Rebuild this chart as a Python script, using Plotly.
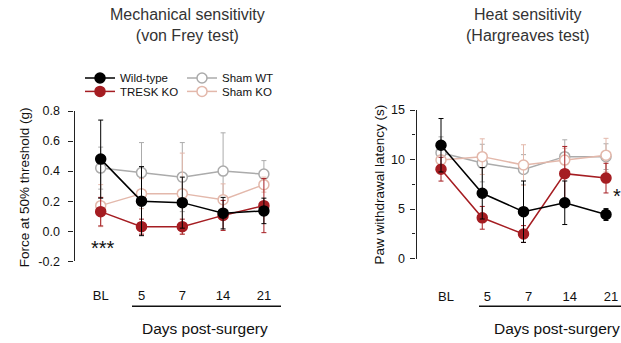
import plotly.graph_objects as go

W, H = 621, 343

# ---------------- data ----------------
days = ["BL", "5", "7", "14", "21"]

# Mechanical sensitivity (von Frey), force at 50% threshold (g), mean and SD
vf_wt = [0.48, 0.20, 0.19, 0.12, 0.135]
vf_wt_err = [0.26, 0.23, 0.17, 0.105, 0.085]
vf_ko = [0.13, 0.03, 0.03, 0.105, 0.17]
vf_ko_err = [0.095, 0.05, 0.05, 0.10, 0.18]
vf_shwt = [0.42, 0.39, 0.36, 0.40, 0.38]
vf_shwt_err = [0.14, 0.20, 0.23, 0.255, 0.09]
vf_shko = [0.17, 0.25, 0.25, 0.21, 0.31]
vf_shko_err = [0.14, 0.10, 0.27, 0.105, 0.05]

# Heat sensitivity (Hargreaves), paw withdrawal latency (s)
hg_wt = [11.45, 6.6, 4.74, 5.64, 4.45]
hg_wt_err = [2.7, 2.6, 3.1, 2.2, 0.6]
hg_ko = [9.03, 4.12, 2.48, 8.58, 8.13]
hg_ko_err = [1.2, 1.15, 0.85, 2.75, 1.5]
hg_shwt = [10.7, 9.65, 9.0, 10.3, 10.3]
hg_shwt_err = [1.6, 1.9, 1.5, 1.7, 1.3]
hg_shko = [9.95, 10.3, 9.45, 9.95, 10.45]
hg_shko_err = [0.5, 1.8, 2.05, 1.2, 1.7]

names = ["Wild-type", "TRESK KO", "Sham WT", "Sham KO"]
colors = ["#000000", "#a51d22", "#ababab", "#e3b8ab"]

FONT = "Arial, Liberation Sans, sans-serif"


def fx(px):
    return px / W


def fy(py):
    return 1 - py / H


xi = list(range(len(days)))

fig = go.Figure()


def add_series(y, err, idx, xa, ya, legend=None):
    filled = idx < 2
    c = colors[idx]
    fig.add_trace(go.Scatter(
        x=xi, y=y, xaxis=xa, yaxis=ya, name=names[idx],
        mode="lines+markers",
        line=dict(color=c, width=1.5),
        marker=dict(size=10, symbol="circle",
                    color=c if filled else "white",
                    line=dict(color=c, width=1.5)),
        error_y=dict(type="data", array=err, visible=True, color=c,
                     thickness=1, width=2.5),
        showlegend=legend is not None,
        legend=legend if legend else "legend",
    ))


# shams drawn first (behind), then KO, then WT
left = [(vf_shwt, vf_shwt_err, 2, "legend3"), (vf_shko, vf_shko_err, 3, "legend4"),
        (vf_ko, vf_ko_err, 1, "legend2"), (vf_wt, vf_wt_err, 0, "legend")]
for y, e, i, lg in left:
    add_series(y, e, i, "x", "y", lg)

right = [(hg_shwt, hg_shwt_err, 2), (hg_shko, hg_shko_err, 3),
         (hg_ko, hg_ko_err, 1), (hg_wt, hg_wt_err, 0)]
for y, e, i in right:
    add_series(y, e, i, "x2", "y2")

axis_color = "#222222"
tickfont = dict(family=FONT, size=12.5, color="#111111")

# panel geometry (pixels)
L_AX = 74.5
L_X0, L_DX = 100.7, 40.8
L_RIGHT = 290
R_AX = 416.5
R_X0, R_DX = 441, 41.25
R_RIGHT = 621

fig.update_layout(
    width=W, height=H,
    margin=dict(l=0, r=0, t=0, b=0),
    paper_bgcolor="white", plot_bgcolor="white",
    font=dict(family=FONT, color="#111111"),
    xaxis=dict(
        domain=[fx(L_AX), fx(L_RIGHT)],
        range=[(L_AX - L_X0) / L_DX, (L_RIGHT - L_X0) / L_DX],
        tickvals=xi, ticktext=days, showline=False, showgrid=False,
        zeroline=False, ticks="", tickfont=dict(family=FONT, size=13, color="#111111"),
        ticklabelstandoff=25, anchor="y",
    ),
    yaxis=dict(
        domain=[fy(265), fy(108.5)], range=[-0.2, 0.8],
        tickvals=[-0.2, 0.0, 0.2, 0.4, 0.6, 0.8],
        ticktext=["-0.2", "0.0", "0.2", "0.4", "0.6", "0.8"],
        showline=True, linecolor=axis_color, linewidth=1.3,
        ticks="outside", ticklen=5, tickwidth=1.3, tickcolor=axis_color,
        showgrid=False, zeroline=False, tickfont=tickfont,
        ticklabelstandoff=6, anchor="x",
    ),
    xaxis2=dict(
        domain=[fx(R_AX), fx(R_RIGHT)],
        range=[(R_AX - R_X0) / R_DX, (R_RIGHT - R_X0) / R_DX],
        tickvals=xi, ticktext=days, showline=False, showgrid=False,
        zeroline=False, ticks="", tickfont=dict(family=FONT, size=13, color="#111111"),
        ticklabelstandoff=28, ticklabelshift=5, anchor="y2",
    ),
    yaxis2=dict(
        domain=[fy(262.3), fy(107.5)], range=[0, 15],
        tickvals=[0, 5, 10, 15],
        showline=True, linecolor=axis_color, linewidth=1.3,
        ticks="outside", ticklen=5, tickwidth=1.3, tickcolor=axis_color,
        minor=dict(ticks="outside", ticklen=3, dtick=2.5, tick0=0,
                   tickcolor=axis_color, tickwidth=1.2),
        showgrid=False, zeroline=False, tickfont=tickfont,
        ticklabelstandoff=3, anchor="x2",
    ),
)

leg_font = dict(family=FONT, size=11.5, color="#111111")
leg_common = dict(font=leg_font, bgcolor="rgba(0,0,0,0)", borderwidth=0,
                  xanchor="left", yanchor="middle", itemclick=False,
                  tracegroupgap=0)
fig.update_layout(
    legend=dict(x=fx(80), y=fy(74), **leg_common),
    legend2=dict(x=fx(80), y=fy(88), **leg_common),
    legend3=dict(x=fx(182), y=fy(74), **leg_common),
    legend4=dict(x=fx(182), y=fy(88), **leg_common),
)

title_font = dict(family=FONT, size=16, color="#333333")
ann = [
    dict(x=fx(187), y=fy(19), text="Mechanical sensitivity<br>(von Frey test)",
         font=title_font),
    dict(x=fx(528), y=fy(19), text="Heat sensitivity<br>(Hargreaves test)",
         font=title_font),
    dict(x=fx(24), y=fy(188), text="Force at 50% threshold (g)", textangle=-90,
         font=dict(family=FONT, size=13.5, color="#111111")),
    dict(x=fx(379), y=fy(185), text="Paw withdrawal latency (s)", textangle=-90,
         font=dict(family=FONT, size=13.5, color="#111111")),
    dict(x=fx(205), y=fy(335), text="Days post-surgery",
         font=dict(family=FONT, size=15.5, color="#111111")),
    dict(x=fx(557), y=fy(335), text="Days post-surgery",
         font=dict(family=FONT, size=15.5, color="#111111")),
    dict(x=fx(103), y=fy(251), text="***",
         font=dict(family=FONT, size=20, color="#111111")),
    dict(x=fx(617), y=fy(197), text="*",
         font=dict(family=FONT, size=20, color="#111111")),
]
for a in ann:
    a.update(xref="paper", yref="paper", showarrow=False,
             xanchor="center", yanchor="middle")
fig.update_layout(annotations=ann)

fig.update_layout(shapes=[
    dict(type="line", xref="paper", yref="paper", x0=fx(132), x1=fx(281),
         y0=fy(312), y1=fy(312), line=dict(color="#111111", width=1.3)),
    dict(type="line", xref="paper", yref="paper", x0=fx(479), x1=fx(621),
         y0=fy(312), y1=fy(312), line=dict(color="#111111", width=1.3)),
])

fig.write_html("out.html")
